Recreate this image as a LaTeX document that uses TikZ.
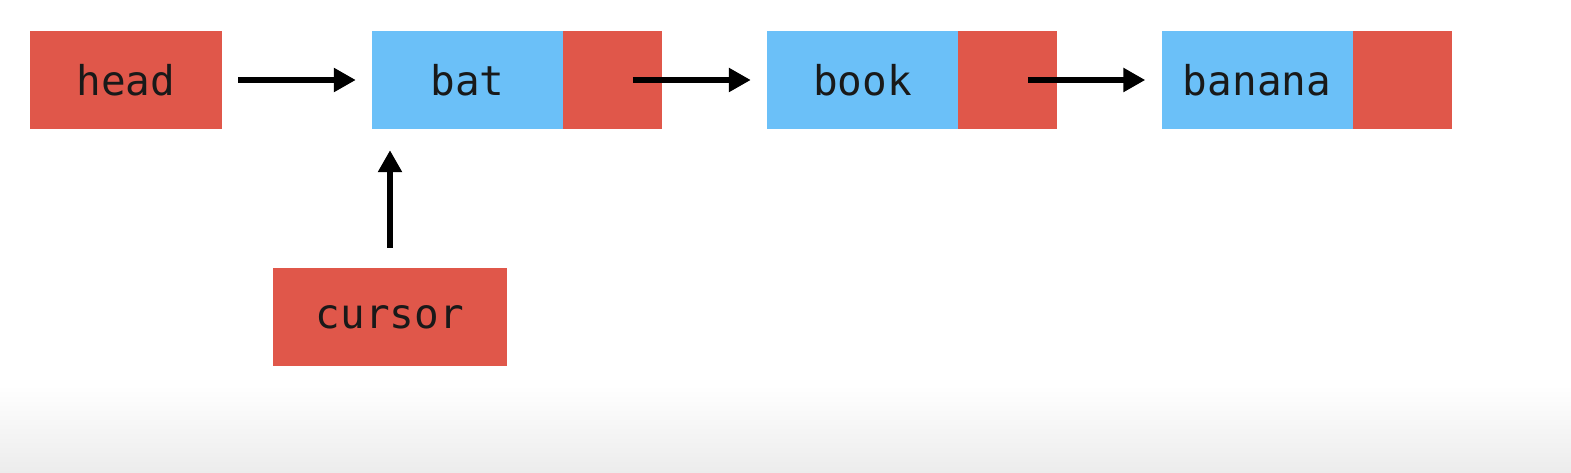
\documentclass[tikz,border=0pt]{standalone}
\usepackage{fontspec}
\setmonofont{DejaVu Sans Mono}
\usetikzlibrary{arrows.meta}
\definecolor{cred}{RGB}{224,87,74}
\definecolor{cblue}{RGB}{107,192,248}
\definecolor{cgray}{RGB}{236,236,236}
\tikzset{
  box/.style={rectangle, inner sep=0pt, minimum height=98pt, font=\ttfamily\fontsize{41}{48}\selectfont, text=black!90},
  redbox/.style={box, fill=cred},
  bluebox/.style={box, fill=cblue, minimum width=191pt},
  ptrbox/.style={box, fill=cred, minimum width=99pt},
  link/.style={line width=6pt, -{Triangle[length=22pt,width=23pt]}, shorten <=16pt, shorten >=16pt}
}
\begin{document}
\begin{tikzpicture}[x=1pt,y=1pt]
\useasboundingbox (0,0) rectangle (1571,-473);
\shade[top color=white, bottom color=cgray] (0,-385) rectangle (1571,-473);
\node[redbox, minimum width=192pt] (head) at (126,-80) {head};
\node[bluebox] (bat) at (467.5,-80) {bat};
\node[ptrbox, anchor=west] (batp) at (bat.east) {};
\node[bluebox] (book) at (862.5,-80) {book};
\node[ptrbox, anchor=west] (bookp) at (book.east) {};
\node[bluebox] (banana) at (1257,-80) {banana};
\node[ptrbox, anchor=west] (bananap) at (banana.east) {};
\node[redbox, minimum width=234pt] (cursor) at (390,-317) {cursor};
\draw[link] (head.east) -- (bat.west);
\draw[link, shorten <=0pt] ([xshift=20pt]batp.center) -- (book.west);
\draw[link, shorten <=0pt] ([xshift=20pt]bookp.center) -- (banana.west);
\draw[link, shorten <=20pt, shorten >=21pt] (cursor.north) -- (cursor.north |- bat.south);
\end{tikzpicture}
\end{document}
